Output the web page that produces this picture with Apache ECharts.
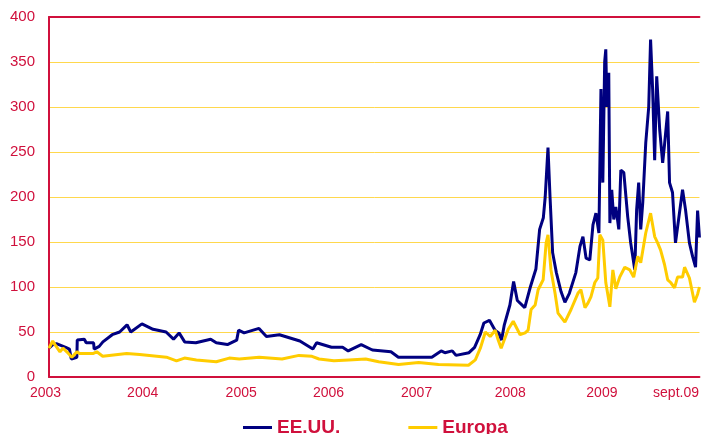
<!DOCTYPE html>
<html>
<head>
<meta charset="utf-8">
<script src="https://cdn.jsdelivr.net/npm/echarts@6/dist/echarts.min.js"></script>
<style>
  html, body { margin: 0; padding: 0; background: #fff; }
  #chart { width: 702px; height: 434px; }
</style>
</head>
<body>
<div id="chart"></div>
<script>
// x values are weeks since January 2003
const usWeeks = [0, 2, 4, 9, 11, 12, 15, 15.2, 19, 20, 24, 24.3, 27, 29, 34, 38, 42, 44, 50, 56, 63, 67, 70, 73, 79, 87, 90, 96, 101, 102, 105, 113, 117, 124, 135, 142, 144, 152, 158, 161, 168, 174, 184, 188, 195, 206, 211, 213, 217, 219, 226, 229, 232, 234, 237, 240, 242, 243.5, 245, 248, 250, 252, 256, 259, 262, 264, 266, 267, 268.5, 269.6, 271, 273, 275.5, 277.6, 280, 283.5, 285.7, 287.3, 289, 291, 292.7, 294.3, 295.9, 297, 298, 299, 299.6, 300.2, 301.2, 301.8, 302.8, 303.9, 305, 306.6, 307.7, 309.3, 311.4, 313, 315.2, 316.2, 317.3, 318.4, 319.5, 321.1, 322.7, 323.7, 324.8, 325.9, 327, 328.6, 330.2, 331.2, 332.9, 333.9, 335.5, 337.1, 340.9, 342.5, 344.6, 346.3, 347.9, 349, 350];
const usValues = [32, 36, 37, 33, 31, 20, 22, 41, 42, 38, 38, 31, 34, 39, 47, 50, 58, 50, 59, 53, 50, 42, 49, 39, 38, 42, 38, 36, 41, 52, 49, 54, 45, 47, 40, 31, 38, 33, 33, 29, 36, 30, 28, 22, 22, 22, 29, 27, 29, 24, 27, 33, 47, 60, 63, 52, 49, 41, 58, 80, 106, 85, 77, 100, 120, 164, 177, 200, 255, 200, 138, 116, 95, 83, 93, 116, 145, 156, 132, 130, 169, 182, 160, 320, 216, 350, 364, 300, 338, 171, 208, 175, 189, 164, 230, 227, 178, 149, 119, 186, 216, 164, 194, 260, 300, 375, 320, 241, 334, 275, 238, 258, 295, 216, 205, 149, 208, 186, 149, 134, 122, 185, 155];

const euWeeks = [0, 2, 3.2, 5.9, 7.5, 9.6, 12.3, 15, 16.6, 23.6, 25.7, 28.9, 41.8, 48.8, 63.2, 68.6, 72.9, 79.3, 90, 97, 102.4, 113.1, 125.4, 134.5, 141.5, 145.3, 153.3, 161.3, 170.4, 177.4, 188.1, 198.9, 209.6, 225.7, 229.4, 232.1, 234.8, 237.4, 240.1, 241.7, 243.3, 247.1, 249.8, 253.5, 256.2, 257.8, 259.4, 261.6, 263.2, 265.9, 267.5, 268.5, 270.1, 272.3, 273.9, 277.6, 280.9, 284.6, 286.2, 288.4, 290, 291.6, 293.7, 295.3, 296.4, 298, 299.6, 301.8, 303.4, 305, 307.1, 309.8, 312.5, 314.6, 316.8, 318.4, 321.1, 323.7, 325.9, 327.5, 329.1, 331.2, 332.9, 334.5, 336.6, 338.2, 340.9, 342, 344.6, 347.3, 349, 350];
const euValues = [32, 40, 36, 28, 32, 28, 22, 28, 26, 26, 28, 23, 26, 25, 22, 18, 21, 19, 17, 21, 20, 22, 20, 24, 23, 20, 18, 19, 20, 17, 14, 16, 14, 13, 19, 32, 50, 45, 52, 41, 32, 53, 62, 47, 49, 52, 75, 80, 97, 108, 149, 158, 119, 93, 71, 61, 75, 93, 97, 77, 82, 89, 105, 110, 158, 152, 105, 78, 119, 98, 111, 122, 119, 111, 134, 127, 160, 182, 156, 149, 141, 125, 108, 105, 99, 111, 111, 122, 110, 83, 92, 100];

const xTickValues = [0, 50.4, 103.4, 150.4, 197.8, 248.2, 297.5, 337.4];
const xTickLabels = ['2003', '2004', '2005', '2006', '2007', '2008', '2009', 'sept.09'];

const RED = '#D0103C';
const chart = echarts.init(document.getElementById('chart'));

chart.setOption({
    animation: false,
    backgroundColor: '#fff',
    grid: { left: 49, right: -2, top: 17, bottom: 57 },
    legend: {
        left: 243, top: 418, padding: 0,
        icon: 'rect', itemWidth: 29, itemHeight: 3, itemGap: 68,
        textStyle: { color: RED, fontFamily: 'Liberation Sans', fontSize: 19, fontWeight: 'bold' },
        data: ['EE.UU.', 'Europa']
    },
    xAxis: [{
        type: 'value', min: 0, max: 350,
        axisLine: { show: true, lineStyle: { color: RED, width: 2 } },
        axisTick: { show: false },
        splitLine: { show: false },
        axisLabel: {
            customValues: xTickValues,
            margin: 9,
            color: RED, fontFamily: 'Liberation Sans', fontSize: 14,
            formatter: v => {
                const i = xTickValues.indexOf(v);
                return i === 0 ? '{first|' + xTickLabels[0] + '}' : xTickLabels[i];
            },
            rich: { first: { padding: [0, 7, 0, 0], color: RED, fontFamily: 'Liberation Sans', fontSize: 14 } }
        }
    }, {
        type: 'value', position: 'top', min: 0, max: 350,
        axisLine: { show: true, onZero: false, lineStyle: { color: RED, width: 2 } },
        axisTick: { show: false }, axisLabel: { show: false }, splitLine: { show: false }
    }],
    yAxis: {
        type: 'value', min: 0, max: 400, interval: 50,
        axisLine: { show: true, lineStyle: { color: RED, width: 2 } },
        axisTick: { show: false },
        axisLabel: { margin: 14, color: RED, fontFamily: 'Liberation Sans', fontSize: 15 },
        splitLine: { lineStyle: { color: '#FFD84D', width: 1 } }
    },
    series: [{
        name: 'EE.UU.', type: 'line', symbol: 'none',
        color: '#000080',
        lineStyle: { width: 3 },
        data: usWeeks.map((w, i) => [w, usValues[i]])
    }, {
        name: 'Europa', type: 'line', symbol: 'none',
        color: '#FFCC00',
        lineStyle: { width: 3 },
        data: euWeeks.map((w, i) => [w, euValues[i]])
    }]
});
</script>
</body>
</html>
